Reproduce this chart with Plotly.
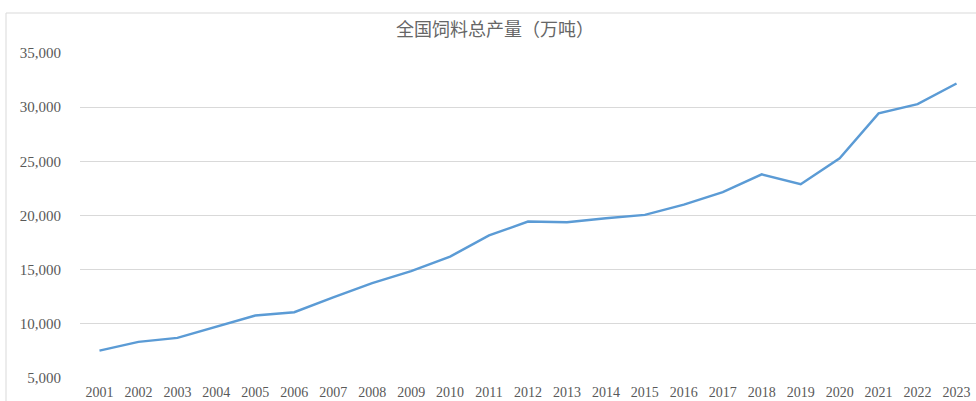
import plotly.graph_objects as go

years = [str(y) for y in range(2001, 2024)]
output = [7530, 8330, 8700, 9750, 10770, 11070, 12450, 13750, 14870, 16200,
          18160, 19440, 19380, 19750, 20060, 21000, 22160, 23800, 22890, 25280,
          29420, 30280, 32190]
y_ticks = [5000, 10000, 15000, 20000, 25000, 30000, 35000]
title_text = "全国饲料总产量（万吨）"

W, H = 976, 401
ml, mr, mt, mb = 80, 0, 53, 23
pw, ph = W - ml - mr, H - mt - mb

fig = go.Figure()
fig.add_trace(go.Scatter(
    x=years, y=output, mode="lines",
    line=dict(color="#5B9BD5", width=2.4),
    hoverinfo="x+y", showlegend=False,
))

font_num = "Liberation Serif, Times New Roman, serif"
fig.update_layout(
    width=W, height=H,
    margin=dict(l=ml, r=mr, t=mt, b=mb),
    paper_bgcolor="white", plot_bgcolor="white",
    title=dict(text=title_text, x=495 / W, xanchor="center", y=1 - 30 / H, yanchor="middle",
               font=dict(family="Noto Sans CJK SC", size=18, color="#666666")),
    xaxis=dict(type="category", range=[-0.5, len(years) - 0.5],
               showgrid=False, zeroline=False, showline=False,
               ticks="", ticklabelstandoff=4,
               tickfont=dict(family=font_num, size=14, color="#595959")),
    yaxis=dict(range=[5000, 35000], tickvals=y_ticks,
               ticktext=[f"{v:,}" for v in y_ticks],
               showgrid=True, gridcolor="#d9d9d9", gridwidth=1,
               zeroline=False, showline=False, ticks="",
               ticklabelstandoff=18,
               tickfont=dict(family=font_num, size=15, color="#595959")),
    shapes=[dict(type="rect", xref="paper", yref="paper",
                 x0=(6 - ml) / pw, x1=1.05,
                 y0=-0.2, y1=(H - mb - 13) / ph,
                 line=dict(color="#d9d9d9", width=1), fillcolor="rgba(0,0,0,0)",
                 layer="below")],
)

fig.write_html(
    "out.html",
    config={"displayModeBar": False},
    post_script="document.body.style.margin='0';document.body.style.overflow='hidden';"
                "document.documentElement.style.overflow='hidden';",
)
